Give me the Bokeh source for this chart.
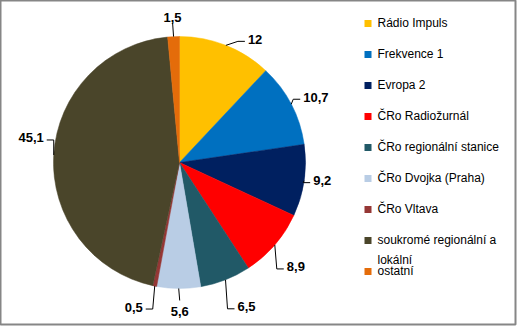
import numpy as np
from bokeh.plotting import figure
from bokeh.models import Range1d, ColumnDataSource
from bokeh.embed import file_html
from bokeh.resources import INLINE
from bokeh.core.properties import value

# ---- data ----
categories = ["Rádio Impuls", "Frekvence 1", "Evropa 2", "ČRo Radiožurnál",
              "ČRo regionální stanice", "ČRo Dvojka (Praha)", "ČRo Vltava",
              "soukromé regionální a\nlokální", "ostatní"]
shares = [12, 10.7, 9.2, 8.9, 6.5, 5.6, 0.5, 45.1, 1.5]
colors = ["#FFC000", "#0070C0", "#002060", "#FF0000", "#215967",
          "#B9CDE5", "#953735", "#4A452A", "#E46C0A"]

# ---- layout / style (pixel space, y measured from top) ----
W, H = 515, 324
CX, CY_PX, R = 179, 162, 126
label_dx = [22, 12, 9, 12, 12, 1, -12, -10, -1]
label_dy = [-6, -7, 0, 22, 27, 23, 21, -17, -19]
label_align = ["left", "left", "left", "left", "left", "center", "right", "right", "center"]
LEG_X, LEG_Y0, LEG_STEP = 367.5, 23, 31
FONT = "Liberation Sans"

def Y(py):
    return H - py

p = figure(width=517, height=326, output_backend="svg", toolbar_location=None,
           x_range=Range1d(0, W), y_range=Range1d(0, H),
           x_axis_location=None, y_axis_location=None,
           min_border_left=0, min_border_top=0, min_border_right=2, min_border_bottom=2)
p.grid.visible = False
p.background_fill_color = "white"
p.border_fill_color = "white"
p.outline_line_color = "#868686"
p.outline_line_width = 2

vals = np.array(shares, dtype=float)
frac = vals / vals.sum()
cum_end = np.cumsum(frac)
cum_start = cum_end - frac
start_angle = np.pi / 2 - cum_end * 2 * np.pi
end_angle = np.pi / 2 - cum_start * 2 * np.pi

src = ColumnDataSource(dict(start=start_angle, end=end_angle, color=colors))
p.wedge(x=CX, y=Y(CY_PX), radius=R, start_angle="start", end_angle="end",
        direction="anticlock", fill_color="color", line_color="color",
        line_width=0.5, source=src)

# data labels with leader lines
theta = (cum_start + cum_end) * np.pi
ex = CX + R * np.sin(theta)
ey = CY_PX - R * np.cos(theta)
lx, ly, txt, xs, ys = [], [], [], [], []
for i, v in enumerate(shares):
    Lx = ex[i] + label_dx[i]
    Ly = ey[i] + label_dy[i]
    lx.append(Lx)
    ly.append(Y(Ly))
    txt.append(f"{v:g}".replace(".", ","))
    a = label_align[i]
    if a == "left":
        p2 = (Lx - 3, Ly + 2); p1 = (p2[0] - 7, p2[1])
        pts = [(ex[i], ey[i]), p1, p2]
    elif a == "right":
        p2 = (Lx + 3, Ly + 2); p1 = (p2[0] + 7, p2[1])
        pts = [(ex[i], ey[i]), p1, p2]
    else:
        end_y = Ly - 11 if label_dy[i] > 0 else Ly + 5
        pts = [(ex[i], ey[i]), (Lx, end_y)]
    xs.append([q[0] for q in pts])
    ys.append([Y(q[1]) for q in pts])

p.multi_line(xs=xs, ys=ys, line_color="black", line_width=1)
for i in range(len(txt)):
    p.text(x=[lx[i]], y=[ly[i]], text=[txt[i]], text_align=label_align[i],
           text_baseline="middle", text_font=value(FONT), text_font_size="13px",
           text_font_style="bold", text_color="black")

# legend
rows_py = [LEG_Y0 + LEG_STEP * i for i in range(len(categories))]
p.scatter(x=[LEG_X] * len(categories), y=[Y(r) for r in rows_py], marker="square",
          size=7, fill_color=colors, line_color=None)
p.text(x=[LEG_X + 9.5] * len(categories), y=[Y(r - 7.5) for r in rows_py], text=categories,
       text_align="left", text_baseline="top", text_font=value(FONT),
       text_font_size="12px", text_color="black", text_line_height=1.4)

open("out.html", "w").write(file_html(p, INLINE))
